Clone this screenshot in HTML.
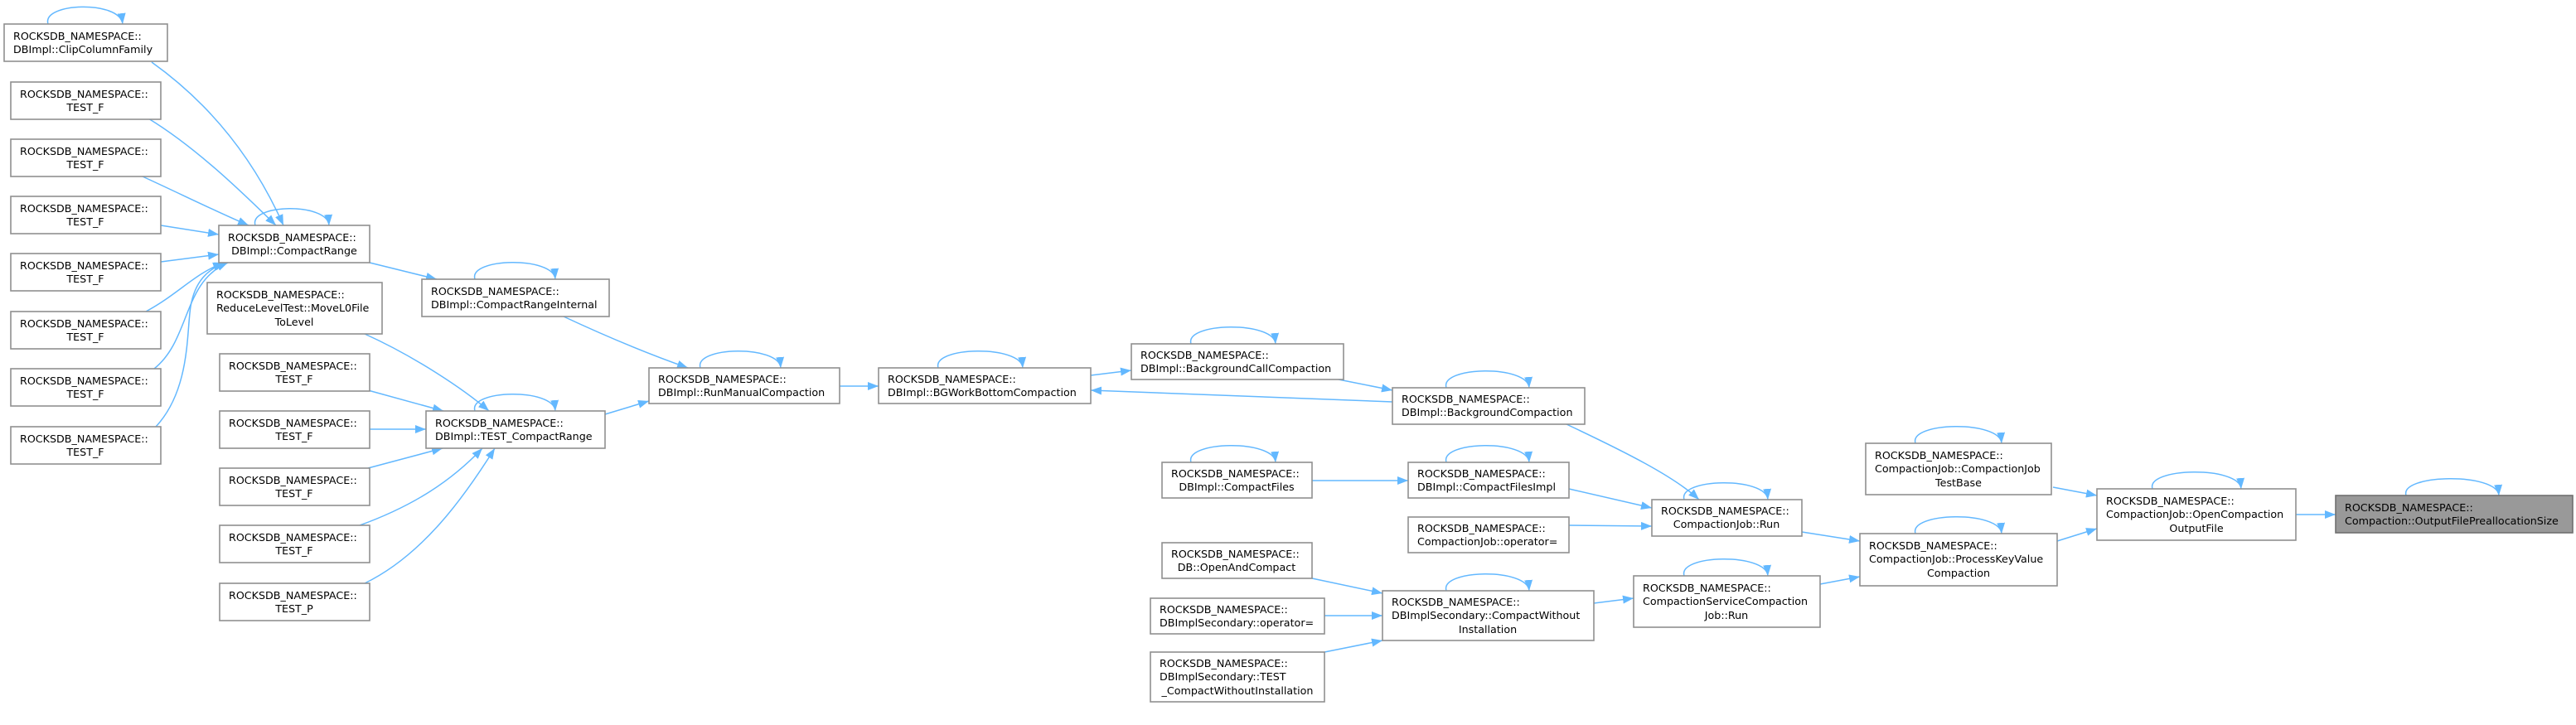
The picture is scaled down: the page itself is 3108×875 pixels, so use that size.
<!DOCTYPE html>
<html><head><meta charset="utf-8"><style>
html,body{margin:0;padding:0;background:#fff;}
svg{display:block;}
text{font-family:"DejaVu Sans","Liberation Sans",sans-serif;font-size:12.7px;fill:#000;}
.n{fill:#fff;stroke:#8f8f8f;stroke-width:1.6;}
.g{fill:#999;stroke:#707070;stroke-width:1.6;}
.e{fill:none;stroke:#63b8ff;stroke-width:1.5;marker-end:url(#a);}
</style></head><body>
<svg width="3108" height="875" viewBox="0 0 3108 875" xmlns="http://www.w3.org/2000/svg">
<defs><marker id="a" markerWidth="13" markerHeight="10" refX="13" refY="5" orient="auto" markerUnits="userSpaceOnUse"><path d="M0,0 L13,5 L0,10z" fill="#63b8ff"/></marker></defs>

<path class="e" d="M183,75 C260,130 310,200 342,272"/>
<path class="e" d="M179,143 C240,180 300,240 333,272"/>
<path class="e" d="M172,213 C220,235 260,255 300,272"/>
<path class="e" d="M194,272 L264,283"/>
<path class="e" d="M194,316 L264,307"/>
<path class="e" d="M176,376 C215,355 235,330 270,317"/>
<path class="e" d="M186,445 C230,410 220,340 275,317"/>
<path class="e" d="M188,515 C230,470 225,400 230,370 C235,340 250,325 272,317"/>
<path class="e" d="M446,317 L527,337"/>
<path class="e" d="M680,382 C740,410 790,430 830,444"/>
<path class="e" d="M440,403 C500,430 560,470 590,496"/>
<path class="e" d="M444,471 L535,496"/>
<path class="e" d="M446,518 L514,518"/>
<path class="e" d="M444,565 L534,541"/>
<path class="e" d="M434,634 C500,610 545,580 582,541"/>
<path class="e" d="M440,704 C510,670 560,600 597,541"/>
<path class="e" d="M730,500 L783,484"/>
<path class="e" d="M1013,466 L1060,466"/>
<path class="e" d="M1316,453 L1365,447"/>
<path class="e" d="M1615,458 L1680,471"/>
<path class="e" d="M1680,485 L1316,471"/>
<path class="e" d="M1890,512 C1960,545 2020,575 2050,603"/>
<path class="e" d="M1583,580 L1699,580"/>
<path class="e" d="M1893,590 L1993,613"/>
<path class="e" d="M1893,634 L1993,635"/>
<path class="e" d="M1583,698 L1668,716"/>
<path class="e" d="M1598,743 L1668,743"/>
<path class="e" d="M1598,787 L1668,773"/>
<path class="e" d="M1923,728 L1971,722"/>
<path class="e" d="M2174,642 L2244,653"/>
<path class="e" d="M2196,705 L2244,696"/>
<path class="e" d="M2477,588 L2530,598"/>
<path class="e" d="M2482,653 L2530,638"/>
<path class="e" d="M2770,621 L2818,621"/>

<path class="e" d="M58,29 C50,3 145,0 148,29"/>
<path class="e" d="M308,272 C300,246 395,244 397,272"/>
<path class="e" d="M573,337 C565,311 668,309 670,337"/>
<path class="e" d="M573,496 C565,470 668,468 670,496"/>
<path class="e" d="M845,444 C837,418 940,416 942,444"/>
<path class="e" d="M1132,444 C1124,418 1232,416 1234,444"/>
<path class="e" d="M1437,415 C1429,389 1537,387 1539,415"/>
<path class="e" d="M1745,468 C1737,442 1843,440 1845,468"/>
<path class="e" d="M1437,558 C1429,532 1537,530 1539,558"/>
<path class="e" d="M1745,558 C1737,532 1843,530 1845,558"/>
<path class="e" d="M1745,713 C1737,687 1843,685 1845,713"/>
<path class="e" d="M2032,603 C2024,577 2131,575 2133,603"/>
<path class="e" d="M2032,695 C2024,669 2131,667 2133,695"/>
<path class="e" d="M2311,535 C2303,509 2413,507 2415,535"/>
<path class="e" d="M2311,644 C2303,618 2413,616 2415,644"/>
<path class="e" d="M2597,590 C2589,564 2702,562 2704,590"/>
<path class="e" d="M2903,598 C2895,572 3013,570 3015,598"/>

<g>
<rect class="n" x="5" y="29" width="197" height="45"/><text x="16" y="48">ROCKSDB_NAMESPACE::</text><text x="16" y="64">DBImpl::ClipColumnFamily</text>

<rect class="n" x="13" y="99" width="181" height="45"/><text x="24" y="118">ROCKSDB_NAMESPACE::</text><text x="103" y="134" text-anchor="middle">TEST_F</text>
<rect class="n" x="13" y="168" width="181" height="45"/><text x="24" y="187">ROCKSDB_NAMESPACE::</text><text x="103" y="203" text-anchor="middle">TEST_F</text>
<rect class="n" x="13" y="237" width="181" height="45"/><text x="24" y="256">ROCKSDB_NAMESPACE::</text><text x="103" y="272" text-anchor="middle">TEST_F</text>
<rect class="n" x="13" y="306" width="181" height="45"/><text x="24" y="325">ROCKSDB_NAMESPACE::</text><text x="103" y="341" text-anchor="middle">TEST_F</text>
<rect class="n" x="13" y="376" width="181" height="45"/><text x="24" y="395">ROCKSDB_NAMESPACE::</text><text x="103" y="411" text-anchor="middle">TEST_F</text>
<rect class="n" x="13" y="445" width="181" height="45"/><text x="24" y="464">ROCKSDB_NAMESPACE::</text><text x="103" y="480" text-anchor="middle">TEST_F</text>
<rect class="n" x="13" y="515" width="181" height="45"/><text x="24" y="534">ROCKSDB_NAMESPACE::</text><text x="103" y="550" text-anchor="middle">TEST_F</text>

<rect class="n" x="264" y="272" width="182" height="45"/><text x="275" y="291">ROCKSDB_NAMESPACE::</text><text x="355" y="307" text-anchor="middle">DBImpl::CompactRange</text>
<rect class="n" x="250" y="341" width="211" height="62"/><text x="261" y="360">ROCKSDB_NAMESPACE::</text><text x="261" y="376">ReduceLevelTest::MoveL0File</text><text x="355" y="393" text-anchor="middle">ToLevel</text>
<rect class="n" x="509" y="337" width="226" height="45"/><text x="520" y="356">ROCKSDB_NAMESPACE::</text><text x="520" y="372">DBImpl::CompactRangeInternal</text>

<rect class="n" x="265" y="427" width="181" height="45"/><text x="276" y="446">ROCKSDB_NAMESPACE::</text><text x="355" y="462" text-anchor="middle">TEST_F</text>
<rect class="n" x="265" y="496" width="181" height="45"/><text x="276" y="515">ROCKSDB_NAMESPACE::</text><text x="355" y="531" text-anchor="middle">TEST_F</text>
<rect class="n" x="265" y="565" width="181" height="45"/><text x="276" y="584">ROCKSDB_NAMESPACE::</text><text x="355" y="600" text-anchor="middle">TEST_F</text>
<rect class="n" x="265" y="634" width="181" height="45"/><text x="276" y="653">ROCKSDB_NAMESPACE::</text><text x="355" y="669" text-anchor="middle">TEST_F</text>
<rect class="n" x="265" y="704" width="181" height="45"/><text x="276" y="723">ROCKSDB_NAMESPACE::</text><text x="355" y="739" text-anchor="middle">TEST_P</text>

<rect class="n" x="514" y="496" width="216" height="45"/><text x="525" y="515">ROCKSDB_NAMESPACE::</text><text x="525" y="531">DBImpl::TEST_CompactRange</text>

<rect class="n" x="783" y="444" width="230" height="43"/><text x="794" y="462">ROCKSDB_NAMESPACE::</text><text x="794" y="478">DBImpl::RunManualCompaction</text>
<rect class="n" x="1060" y="444" width="256" height="43"/><text x="1071" y="462">ROCKSDB_NAMESPACE::</text><text x="1071" y="478">DBImpl::BGWorkBottomCompaction</text>
<rect class="n" x="1365" y="415" width="256" height="43"/><text x="1376" y="433">ROCKSDB_NAMESPACE::</text><text x="1376" y="449">DBImpl::BackgroundCallCompaction</text>
<rect class="n" x="1680" y="468" width="232" height="44"/><text x="1691" y="486">ROCKSDB_NAMESPACE::</text><text x="1691" y="502">DBImpl::BackgroundCompaction</text>

<rect class="n" x="1402" y="558" width="181" height="43"/><text x="1413" y="576">ROCKSDB_NAMESPACE::</text><text x="1492" y="592" text-anchor="middle">DBImpl::CompactFiles</text>
<rect class="n" x="1699" y="558" width="194" height="43"/><text x="1710" y="576">ROCKSDB_NAMESPACE::</text><text x="1710" y="592">DBImpl::CompactFilesImpl</text>
<rect class="n" x="1699" y="624" width="194" height="43"/><text x="1710" y="642">ROCKSDB_NAMESPACE::</text><text x="1710" y="658">CompactionJob::operator=</text>
<rect class="n" x="1402" y="655" width="181" height="43"/><text x="1413" y="673">ROCKSDB_NAMESPACE::</text><text x="1492" y="689" text-anchor="middle">DB::OpenAndCompact</text>
<rect class="n" x="1388" y="722" width="210" height="43"/><text x="1399" y="740">ROCKSDB_NAMESPACE::</text><text x="1399" y="756">DBImplSecondary::operator=</text>
<rect class="n" x="1388" y="787" width="210" height="60"/><text x="1399" y="805">ROCKSDB_NAMESPACE::</text><text x="1399" y="821">DBImplSecondary::TEST</text><text x="1493" y="838" text-anchor="middle">_CompactWithoutInstallation</text>
<rect class="n" x="1668" y="713" width="255" height="60"/><text x="1679" y="731">ROCKSDB_NAMESPACE::</text><text x="1679" y="747">DBImplSecondary::CompactWithout</text><text x="1795" y="764" text-anchor="middle">Installation</text>

<rect class="n" x="1993" y="603" width="181" height="44"/><text x="2004" y="621">ROCKSDB_NAMESPACE::</text><text x="2083" y="637" text-anchor="middle">CompactionJob::Run</text>
<rect class="n" x="1971" y="695" width="225" height="62"/><text x="1982" y="714">ROCKSDB_NAMESPACE::</text><text x="1982" y="730">CompactionServiceCompaction</text><text x="2083" y="747" text-anchor="middle">Job::Run</text>
<rect class="n" x="2251" y="535" width="224" height="62"/><text x="2262" y="554">ROCKSDB_NAMESPACE::</text><text x="2262" y="570">CompactionJob::CompactionJob</text><text x="2363" y="587" text-anchor="middle">TestBase</text>
<rect class="n" x="2244" y="644" width="238" height="63"/><text x="2255" y="663">ROCKSDB_NAMESPACE::</text><text x="2255" y="679">CompactionJob::ProcessKeyValue</text><text x="2363" y="696" text-anchor="middle">Compaction</text>
<rect class="n" x="2530" y="590" width="240" height="62"/><text x="2541" y="609">ROCKSDB_NAMESPACE::</text><text x="2541" y="625">CompactionJob::OpenCompaction</text><text x="2650" y="642" text-anchor="middle">OutputFile</text>
<rect class="g" x="2818" y="598" width="286" height="45"/><text x="2829" y="617">ROCKSDB_NAMESPACE::</text><text x="2829" y="633">Compaction::OutputFilePreallocationSize</text>
</g>
</svg>
</body></html>
